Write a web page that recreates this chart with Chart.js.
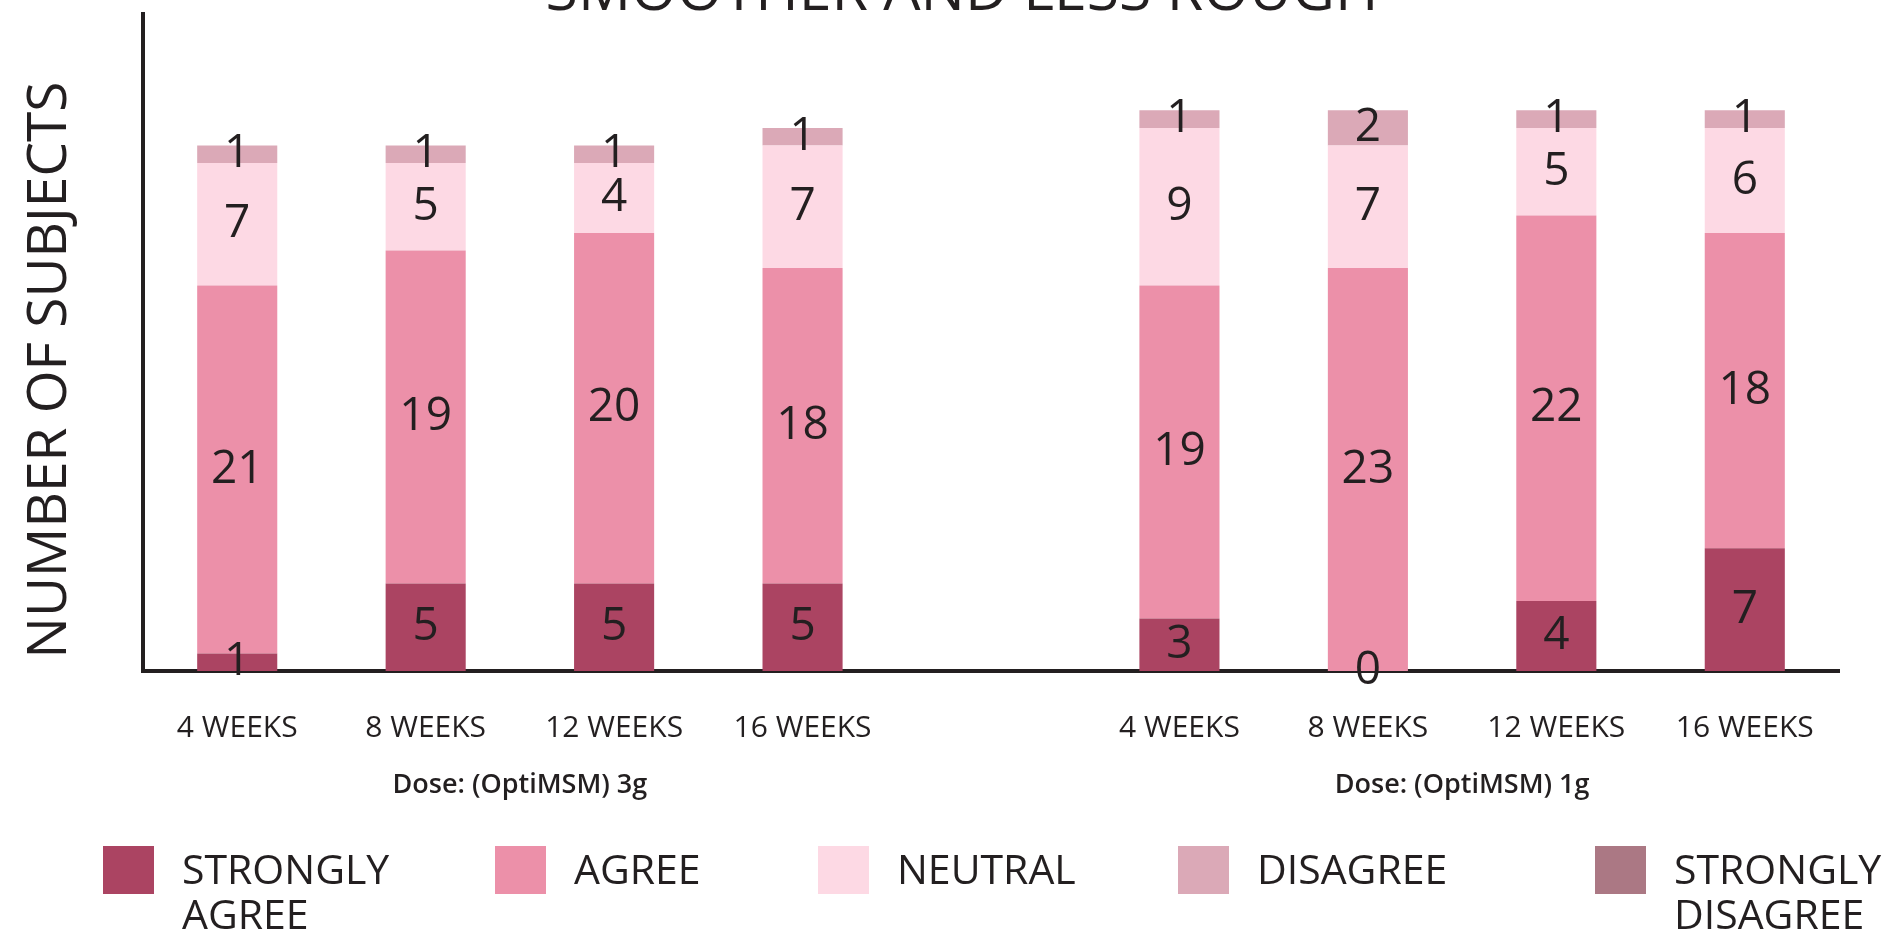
<!DOCTYPE html>
<html>
<head>
<meta charset="utf-8">
<script src="https://cdn.jsdelivr.net/npm/chart.js@4.4.1/dist/chart.umd.min.js"></script>
<style>
  html, body { margin: 0; padding: 0; background: #ffffff; overflow: hidden; }
  #wrap { position: relative; width: 1887px; height: 936px; }
  #legend { position: absolute; left: 0; top: 0; width: 1887px; height: 936px; pointer-events: none; font-family: 'Open Sans', sans-serif; }
  .li { position: absolute; top: 846px; }
  .li .sw { position: absolute; left: 0; top: 0; width: 51px; height: 48px; }
  .li .tx { position: absolute; left: 79px; top: 0; width: 240px; font-size: 41px; line-height: 45px; color: #231f20; white-space: normal; }
</style>
</head>
<body>
<div id="wrap">
  <canvas id="c" width="1887" height="936"></canvas>
  <div id="legend"></div>
</div>
<script>
// ---- data ----
const chartTitle = 'SMOOTHER AND LESS ROUGH';
const yAxisTitle = 'NUMBER OF SUBJECTS';
const categories = ['4 WEEKS', '8 WEEKS', '12 WEEKS', '16 WEEKS', '', '4 WEEKS', '8 WEEKS', '12 WEEKS', '16 WEEKS'];
const groupLabels = ['Dose: (OptiMSM) 3g', 'Dose: (OptiMSM) 1g'];
const groupRanges = [[0, 3], [5, 8]];
const seriesNames = ['STRONGLY AGREE', 'AGREE', 'NEUTRAL', 'DISAGREE', 'STRONGLY DISAGREE'];
const stronglyAgree    = [1, 5, 5, 5, null, 3, 0, 4, 7];
const agree            = [21, 19, 20, 18, null, 19, 23, 22, 18];
const neutral          = [7, 5, 4, 7, null, 9, 7, 5, 6];
const disagree         = [1, 1, 1, 1, null, 1, 2, 1, 1];
const stronglyDisagree = [0, 0, 0, 0, null, 0, 0, 0, 0];
const yMax = 37.5;

// ---- styles ----
const seriesColors = ['#ab4462', '#ec90a9', '#fdd9e4', '#dba9b7', '#ab7884'];
const ink = '#231f20';
const FONT = "'Open Sans', sans-serif";
const legendLeft = [103, 495, 818, 1178, 1595];

const seriesData = [stronglyAgree, agree, neutral, disagree, stronglyDisagree];
const datasets = seriesNames.map((name, i) => ({
  label: name,
  data: seriesData[i],
  backgroundColor: seriesColors[i],
  borderWidth: 0,
  showValues: i < 4,
  categoryPercentage: 1.0,
  barPercentage: 0.425
}));

const overlay = {
  id: 'overlay',
  afterDatasetsDraw(chart) {
    const ctx = chart.ctx;
    ctx.save();
    ctx.fillStyle = ink;
    ctx.textAlign = 'center';
    ctx.textBaseline = 'middle';
    ctx.font = "400 46px " + FONT;
    chart.data.datasets.forEach((ds, i) => {
      if (!ds.showValues) return;
      const meta = chart.getDatasetMeta(i);
      meta.data.forEach((bar, j) => {
        const v = ds.data[j];
        if (v === null || v === undefined) return;
        const p = bar.getProps(['x', 'y', 'base'], true);
        ctx.fillText(String(v), p.x, (p.y + p.base) / 2);
      });
    });
    ctx.restore();
  },
  afterDraw(chart) {
    const ctx = chart.ctx;
    const xs = chart.scales.x;
    ctx.save();
    ctx.fillStyle = ink;
    // title (top part runs off the canvas as in the reference)
    ctx.textAlign = 'center';
    ctx.textBaseline = 'alphabetic';
    ctx.font = "400 59px " + FONT;
    ctx.fillText(chartTitle, 962, 10);
    // group labels
    ctx.textBaseline = 'middle';
    ctx.font = "600 27px " + FONT;
    groupLabels.forEach((g, k) => {
      const [a, b] = groupRanges[k];
      const cx = (xs.getPixelForValue(a) + xs.getPixelForValue(b)) / 2;
      ctx.fillText(g, cx, 785);
    });
    // y axis title
    ctx.translate(50, 370);
    ctx.rotate(-Math.PI / 2);
    ctx.font = "400 55px " + FONT;
    ctx.fillText(yAxisTitle, 0, 0);
    ctx.restore();
  }
};

const chart = new Chart(document.getElementById('c'), {
  type: 'bar',
  data: { labels: categories, datasets },
  options: {
    responsive: false,
    animation: false,
    devicePixelRatio: 1,
    layout: { padding: { top: 14, left: 135, right: 48, bottom: 0 } },
    plugins: { legend: { display: false }, tooltip: { enabled: false }, title: { display: false } },
    scales: {
      x: {
        stacked: true,
        grid: { display: false },
        border: { display: true, color: ink, width: 4 },
        ticks: { color: ink, font: { family: FONT, size: 30 }, padding: 31, maxRotation: 0, autoSkip: false },
        afterFit(s) { s.height = 265; }
      },
      y: {
        stacked: true,
        min: 0,
        max: yMax,
        grid: { display: false },
        border: { display: true, color: ink, width: 4 },
        ticks: { display: false }
      }
    }
  },
  plugins: [overlay]
});

// HTML legend built from the chart's datasets
const lg = document.getElementById('legend');
chart.data.datasets.forEach((ds, i) => {
  const item = document.createElement('div');
  item.className = 'li';
  item.style.left = legendLeft[i] + 'px';
  const sw = document.createElement('div');
  sw.className = 'sw';
  sw.style.background = ds.backgroundColor;
  const tx = document.createElement('div');
  tx.className = 'tx';
  tx.textContent = ds.label;
  item.appendChild(sw);
  item.appendChild(tx);
  lg.appendChild(item);
});
</script>
</body>
</html>
